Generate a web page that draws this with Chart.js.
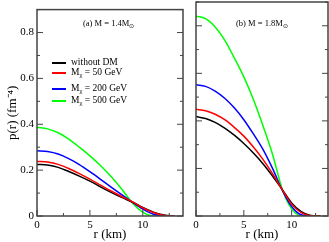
<!DOCTYPE html>
<html>
<head>
<meta charset="utf-8">
<script src="https://cdn.jsdelivr.net/npm/chart.js@4/dist/chart.umd.min.js"></script>
<style>
  body { margin: 0; background: #fff; overflow: hidden; }
  #wrap { position: relative; width: 329px; height: 242px; font-family: "Liberation Serif", serif; }
  canvas { position: absolute; top: 0; }
  .txt { position: absolute; white-space: nowrap; line-height: 1; color: #000; }
  .txt sub { font-size: 70%; vertical-align: -0.3em; line-height: 0; }
  .key { position: absolute; height: 2px; width: 14px; }
</style>
</head>
<body>
<div id="wrap">
  <canvas id="panelA" width="188" height="242" style="left:0"></canvas>
  <canvas id="panelB" width="141" height="242" style="left:188px"></canvas>

  <div class="txt" style="left:83px;top:19px;font-size:8.5px">(a) M = 1.4M<sub>&#8857;</sub></div>
  <div class="txt" style="left:236px;top:19px;font-size:8.5px">(b) M = 1.8M<sub>&#8857;</sub></div>

  <div class="key" style="left:52px;top:62px;background:#000"></div>
  <div class="txt" style="left:71px;top:58px;font-size:9.5px">without DM</div>
  <div class="key" style="left:52px;top:72px;background:#ff0000"></div>
  <div class="txt" style="left:71px;top:68px;font-size:9.5px">M<sub>&#967;</sub> = 50 GeV</div>
  <div class="key" style="left:52px;top:88px;background:#0000ff"></div>
  <div class="txt" style="left:71px;top:84px;font-size:9.5px">M<sub>&#967;</sub> = 200 GeV</div>
  <div class="key" style="left:52px;top:100px;background:#00ff00"></div>
  <div class="txt" style="left:71px;top:96px;font-size:9.5px">M<sub>&#967;</sub> = 500 GeV</div>
</div>
<script>
// radius grid (km)
const radius = [0, 1, 2, 3, 4, 5, 6, 7, 8, 9, 10, 11, 12, 13];

// (a) M = 1.4 Msun
const noDmA   = [0.225, 0.222, 0.212, 0.194, 0.174, 0.152, 0.127, 0.103, 0.081, 0.061, 0.037, 0.017, 0.004, 0];
const m50A    = [0.238, 0.235, 0.225, 0.207, 0.185, 0.161, 0.135, 0.109, 0.085, 0.062, 0.036, 0.015, 0.002, 0];
const m200A   = [0.285, 0.281, 0.270, 0.250, 0.224, 0.193, 0.160, 0.126, 0.093, 0.060, 0.030, 0.008, 0, 0];
const m500A   = [0.387, 0.380, 0.363, 0.335, 0.300, 0.262, 0.220, 0.172, 0.118, 0.058, 0.017, 0, 0, 0];

// (b) M = 1.8 Msun
const noDmB   = [0.418, 0.410, 0.394, 0.370, 0.340, 0.305, 0.265, 0.220, 0.168, 0.112, 0.055, 0.018, 0.002, 0];
const m50B    = [0.449, 0.443, 0.428, 0.405, 0.373, 0.336, 0.290, 0.238, 0.178, 0.112, 0.050, 0.014, 0.001, 0];
const m200B   = [0.552, 0.545, 0.525, 0.495, 0.455, 0.405, 0.345, 0.280, 0.200, 0.110, 0.040, 0.005, 0, 0];
const m500B   = [0.840, 0.830, 0.795, 0.740, 0.665, 0.585, 0.490, 0.380, 0.260, 0.115, 0.030, 0, 0, 0];

const lineColors = ['#000000', '#ff0000', '#0000ff', '#00ff00'];
const seriesNames = ['without DM', 'Mχ = 50 GeV', 'Mχ = 200 GeV', 'Mχ = 500 GeV'];

Chart.defaults.font.family = '"Liberation Serif", serif';
Chart.defaults.color = '#000';

// frame with inward ticks, like the original plot
const frameTicks = {
  id: 'frameTicks',
  afterDatasetsDraw(chart) {
    const { ctx, chartArea: a, scales } = chart;
    const x = scales.x, y = scales.y;
    ctx.save();
    ctx.strokeStyle = '#444';
    ctx.lineWidth = 1;
    const seg = (x1, y1, x2, y2) => { ctx.beginPath(); ctx.moveTo(x1, y1); ctx.lineTo(x2, y2); ctx.stroke(); };
    x.ticks.forEach(t => {
      const px = x.getPixelForValue(t.value);
      const len = Math.abs(t.value % 5) < 1e-6 ? 6 : 3;
      seg(px, a.bottom, px, a.bottom - len);
    });
    y.ticks.forEach(t => {
      const py = y.getPixelForValue(t.value);
      const len = Math.round(t.value * 10) % 2 === 0 ? 6 : 3;
      seg(a.left, py, a.left + len, py);
      seg(a.right, py, a.right - len, py);
    });
    ctx.lineWidth = 1.5;
    ctx.strokeRect(a.left, a.top, a.right - a.left, a.bottom - a.top);
    ctx.restore();
  }
};

function makeSets(vals) {
  return vals.map((v, i) => ({
    label: seriesNames[i],
    data: radius.map((r, k) => ({ x: r, y: v[k] })),
    borderColor: lineColors[i],
    borderWidth: 1.5,
    pointRadius: 0,
    cubicInterpolationMode: 'monotone',
    order: i === 1 ? 0 : i + 1
  }));
}

function makePanel(id, vals, showY, padRight, yWidth) {
  new Chart(document.getElementById(id), {
    type: 'line',
    data: { datasets: makeSets(vals) },
    options: {
      responsive: false,
      animation: false,
      devicePixelRatio: 1,
      layout: { padding: { top: 2, right: padRight, left: 0, bottom: 0 } },
      plugins: { legend: { display: false }, tooltip: { enabled: false } },
      scales: {
        x: {
          type: 'linear',
          min: 0, max: 13.8,
          grid: { display: false, drawTicks: false },
          border: { display: false },
          ticks: {
            stepSize: 2.5, includeBounds: false, autoSkip: false, maxRotation: 0,
            padding: 3, font: { size: 11 },
            callback: v => (Math.abs(v % 5) < 1e-6 ? String(v) : '')
          },
          title: { display: true, text: 'r (km)', font: { size: 13 }, padding: { top: 0, bottom: 0 } },
          afterFit: s => { s.height = 26; }
        },
        y: {
          min: 0, max: 0.9,
          grid: { display: false, drawTicks: false },
          border: { display: false },
          ticks: {
            display: showY,
            stepSize: 0.1, includeBounds: false, autoSkip: false,
            padding: 3, font: { size: 11 },
            callback: v => {
              const n = Math.round(v * 10);
              if (n % 2 !== 0) return '';
              return n === 0 ? '0' : (n / 10).toFixed(1);
            }
          },
          title: { display: showY, text: 'p(r) (fm⁻⁴)', font: { size: 13 }, padding: { top: 5, bottom: 0 } },
          afterFit: s => { s.width = yWidth; }
        }
      }
    },
    plugins: [frameTicks]
  });
}

makePanel('panelA', [noDmA, m50A, m200A, m500A], true, 5, 37);
makePanel('panelB', [noDmB, m50B, m200B, m500B], false, 1, 8);
</script>
</body>
</html>
